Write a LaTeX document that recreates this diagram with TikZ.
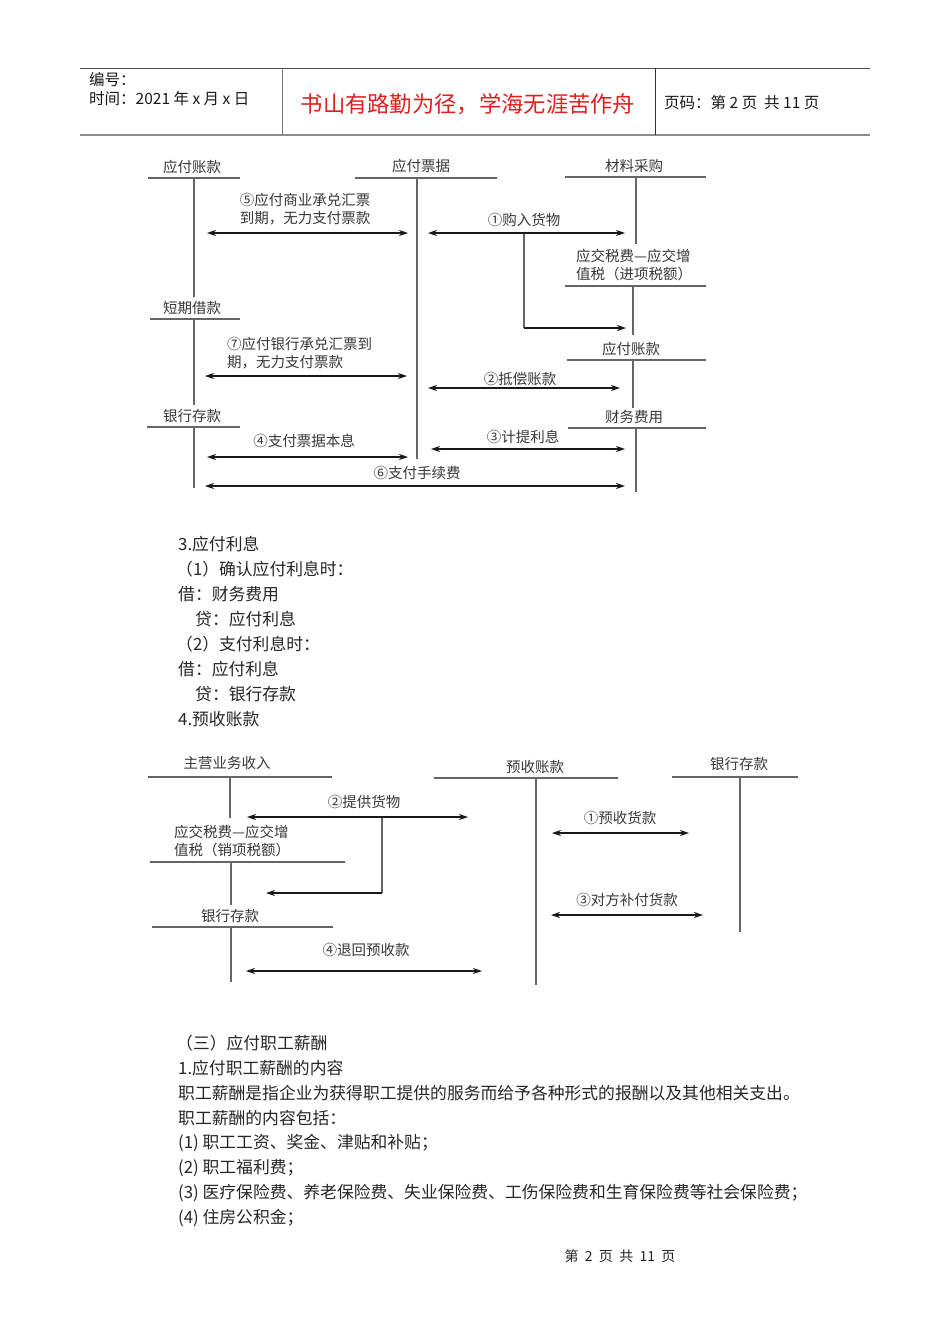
\documentclass[tikz,border=0pt]{standalone}
\usepackage{fontspec}
\setmainfont{Noto Sans CJK SC}
\usetikzlibrary{arrows.meta}
\begin{document}
\begin{tikzpicture}[x=1pt,y=-1pt,
  tline/.style={draw=black!60, line width=1.5pt},
  dbl/.style={{Stealth[length=9pt,width=6pt]}-{Stealth[length=9pt,width=6pt]}, line width=1.1pt, draw=black!90},
  one/.style={-{Stealth[length=9pt,width=6pt]}, line width=1.1pt, draw=black!90},
  brl/.style={line width=1.5pt, draw=black!60},
  lbl/.style={font=\fontsize{14.5}{18}\selectfont, text=black!78, inner sep=0pt},
  lblw/.style={lbl, anchor=west},
  body/.style={font=\fontsize{16.8}{19}\selectfont, text=black!85, anchor=west, inner sep=0pt},
  hdr/.style={font=\fontsize{15.5}{18}\selectfont, text=black!90, anchor=west, inner sep=0pt},
]
\useasboundingbox (0,0) rectangle (950,1344);
\fill[white] (0,0) rectangle (950,1344);

% ---------------- header ----------------
\draw[line width=1pt, draw=black!70] (80,68) -- (870,68);
\draw[line width=2pt, draw=black!45] (80,135) -- (870,135);
\draw[line width=1pt, draw=black!55] (282,68) -- (282,135);
\draw[line width=1pt, draw=black!80] (655,68) -- (655,135);
\node[hdr] (bh) at (89,80) {编号：};
\node[hdr] (sj) at (89,99) {时间：2021 年 x 月 x 日};
\node[font=\fontsize{22.3}{25}\selectfont, text={rgb,255:red,225;green,30;blue,30}, inner sep=0pt] (title) at (468,104) {书山有路勤为径，学海无涯苦作舟};
\node[hdr] (ym) at (664,103) {页码：第 2 页\ \ 共 11 页};

% ---------------- diagram 1 ----------------
% 应付账款
\node[lbl] (A1) at (192,167) {应付账款};
\draw[tline] (148,178) -- (240,178);
\draw[tline] (194,178) -- (194,297);
% 应付票据
\node[lbl] (A2) at (421,166) {应付票据};
\draw[tline] (355,178) -- (497,178);
\draw[tline] (417,178) -- (417,459);
% 材料采购
\node[lbl] (A3) at (634,166) {材料采购};
\draw[tline] (565,177) -- (706,177);
\draw[tline] (636,177) -- (636,244);
% 应交税费 进项
\node[lblw] (A4a) at (576,256) {应交税费—应交增};
\node[lblw] (A4b) at (576,274) {值税（进项税额）};
\draw[tline] (565,286) -- (706,286);
\draw[tline] (633,286) -- (633,335);
% 短期借款
\node[lbl] (A5) at (192,308) {短期借款};
\draw[tline] (150,319) -- (240,319);
\draw[tline] (194,319) -- (194,405);
% 应付账款 2
\node[lbl] (A6) at (631,349) {应付账款};
\draw[tline] (567,360) -- (706,360);
\draw[tline] (633,360) -- (633,408);
% 银行存款
\node[lbl] (A7) at (192,416) {银行存款};
\draw[tline] (147,427) -- (240,427);
\draw[tline] (194,427) -- (194,488);
% 财务费用
\node[lbl] (A8) at (634,417) {财务费用};
\draw[tline] (568,428) -- (706,428);
\draw[tline] (636,428) -- (636,492);

% arrows diagram 1
\node[lbl] (t5a) at (305,200) {⑤应付商业承兑汇票};
\node[lbl] (t5b) at (305,218) {到期，无力支付票款};
\coordinate (a5l) at (207,233); \coordinate (a5r) at (408,233);
\draw[dbl] (a5l) -- (a5r);

\node[lbl] (t1) at (524,220) {①购入货物};
\coordinate (a1l) at (428,233); \coordinate (a1r) at (625,233);
\draw[dbl] (a1l) -- (a1r);
\coordinate (b1s) at (524,234); \coordinate (b1c) at (524,328); \coordinate (b1e) at (626,328);
\draw[brl] (b1s) -- (b1c);
\draw[one] (b1c) -- (b1e);

\node[lblw] (t7a) at (227,344) {⑦应付银行承兑汇票到};
\node[lblw] (t7b) at (227,362) {期，无力支付票款};
\coordinate (a7l) at (205,376); \coordinate (a7r) at (407,376);
\draw[dbl] (a7l) -- (a7r);

\node[lbl] (t2) at (520,379) {②抵偿账款};
\coordinate (a2l) at (428,388); \coordinate (a2r) at (620,388);
\draw[dbl] (a2l) -- (a2r);

\node[lbl] (t4) at (304,441) {④支付票据本息};
\coordinate (a4l) at (207,457); \coordinate (a4r) at (408,457);
\draw[dbl] (a4l) -- (a4r);

\node[lbl] (t3) at (523,437) {③计提利息};
\coordinate (a3l) at (431,449); \coordinate (a3r) at (625,449);
\draw[dbl] (a3l) -- (a3r);

\node[lbl] (t6) at (417,473) {⑥支付手续费};
\coordinate (a6l) at (205,486); \coordinate (a6r) at (625,486);
\draw[dbl] (a6l) -- (a6r);

% ---------------- text block 1 ----------------
\node[body] (p1) at (178,544) {3.应付利息};
\node[body] (p2) at (176,569) {（1）确认应付利息时：};
\node[body] (p3) at (178,594) {借：财务费用};
\node[body] (p4) at (195,619) {贷：应付利息};
\node[body] (p5) at (176,644) {（2）支付利息时：};
\node[body] (p6) at (178,669) {借：应付利息};
\node[body] (p7) at (195,694) {贷：银行存款};
\node[body] (p8) at (178,719) {4.预收账款};

% ---------------- diagram 2 ----------------
\node[lbl] (B1) at (227,763) {主营业务收入};
\draw[tline] (148,777) -- (332,777);
\draw[tline] (230,777) -- (230,818);

\node[lbl] (B2) at (535,767) {预收账款};
\draw[tline] (434,778) -- (618,778);
\draw[tline] (536,778) -- (536,985);

\node[lbl] (B3) at (739,764) {银行存款};
\draw[tline] (672,777) -- (798,777);
\draw[tline] (740,777) -- (740,932);

\node[lblw] (B4a) at (174,832) {应交税费—应交增};
\node[lblw] (B4b) at (174,850) {值税（销项税额）};
\draw[tline] (150,862) -- (345,862);
\draw[tline] (231,862) -- (231,905);

\node[lbl] (B5) at (230,916) {银行存款};
\draw[tline] (152,927) -- (333,927);
\draw[tline] (231,927) -- (231,982);

\node[lbl] (s2) at (364,802) {②提供货物};
\coordinate (c2l) at (247,817); \coordinate (c2r) at (468,817);
\draw[dbl] (c2l) -- (c2r);
\coordinate (d2s) at (382,818); \coordinate (d2c) at (382,893); \coordinate (d2e) at (266,893);
\draw[brl] (d2s) -- (d2c);
\draw[one] (d2c) -- (d2e);

\node[lbl] (s4) at (366,950) {④退回预收款};
\coordinate (c4l) at (246,971); \coordinate (c4r) at (482,971);
\draw[dbl] (c4l) -- (c4r);

\node[lbl] (s1) at (620,818) {①预收货款};
\coordinate (c1l) at (552,833); \coordinate (c1r) at (689,833);
\draw[dbl] (c1l) -- (c1r);

\node[lbl] (s3) at (627,900) {③对方补付货款};
\coordinate (c3l) at (551,915); \coordinate (c3r) at (703,915);
\draw[dbl] (c3l) -- (c3r);

% ---------------- text block 2 ----------------
\node[body] (q1) at (176,1043) {（三）应付职工薪酬};
\node[body] (q2) at (178,1068) {1.应付职工薪酬的内容};
\node[body] (q3) at (178,1093) {职工薪酬是指企业为获得职工提供的服务而给予各种形式的报酬以及其他相关支出。};
\node[body] (q4) at (178,1118) {职工薪酬的内容包括：};
\node[body] (q5) at (178,1143) {(1) 职工工资、奖金、津贴和补贴；};
\node[body] (q6) at (178,1168) {(2) 职工福利费；};
\node[body] (q7) at (178,1193) {(3) 医疗保险费、养老保险费、失业保险费、工伤保险费和生育保险费等社会保险费；};
\node[body] (q8) at (178,1218) {(4) 住房公积金；};

% ---------------- footer ----------------
\node[font=\fontsize{14}{16}\selectfont, text=black!85, inner sep=0pt] (ft) at (620,1256) {第\ \ 2\ \ 页\ \ 共\ \ 11\ \ 页};
\end{tikzpicture}
\end{document}
